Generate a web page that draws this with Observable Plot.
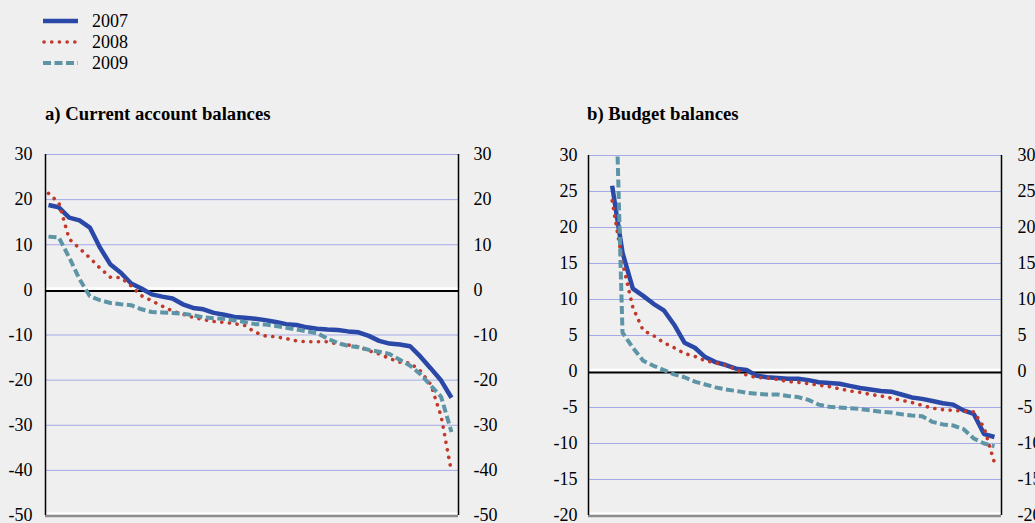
<!DOCTYPE html>
<html><head><meta charset="utf-8">
<script src="https://cdn.jsdelivr.net/npm/d3@7"></script>
<script src="https://cdn.jsdelivr.net/npm/@observablehq/plot@0.6"></script>
<style>
html,body{margin:0;padding:0;background:#efefef;overflow:hidden;width:1035px;height:523px;}
#wrap{position:relative;width:1035px;height:523px;overflow:hidden;font-family:"Liberation Serif","Times New Roman",serif;}
#wrap svg text{font-family:"Liberation Serif","Times New Roman",serif !important;}
#wrap svg{max-width:none !important;}
#left,#right{position:absolute;top:140px;}
#left{left:0;width:518px}
#right{left:540px;width:521px}
#overlay{position:absolute;left:0;top:0}
</style></head><body>
<div id="wrap">
<svg id="overlay" width="1035" height="140" font-family="Liberation Serif, Times New Roman, serif">
  <line x1="43" x2="78" y1="21" y2="21" stroke="#2a48a8" stroke-width="4.5"/>
  <line x1="44" x2="78" y1="42" y2="42" stroke="#c0392b" stroke-width="3.6" stroke-dasharray="0.1,7.6" stroke-linecap="round"/>
  <line x1="43" x2="78" y1="63" y2="63" stroke="#5e95a6" stroke-width="4" stroke-dasharray="8,3.5"/>
  <text x="92" y="27" font-size="18">2007</text>
  <text x="92" y="48" font-size="18">2008</text>
  <text x="92" y="69" font-size="18">2009</text>
  <text x="45" y="120" font-size="18.7" font-weight="bold">a) Current account balances</text>
  <text x="587" y="120" font-size="18.7" font-weight="bold">b) Budget balances</text>
</svg>
<div id="left"></div><div id="right"></div>
</div>
<script>
const years = ["2007", "2008", "2009"];
const seriesColors = ["#2a48a8", "#c0392b", "#5e95a6"];

// a) Current account balances (sorted country values), positions 1..40
const caTicks = [30, 20, 10, 0, -10, -20, -30, -40, -50];
const ca2007 = [18.8,18.3,16.0,15.4,13.8,9.3,5.6,3.8,1.4,0.3,-1.0,-1.5,-1.9,-3.2,-4.0,-4.3,-5.1,-5.5,-6.0,-6.2,-6.4,-6.7,-7.1,-7.6,-7.8,-8.3,-8.6,-8.8,-8.9,-9.2,-9.4,-10.2,-11.3,-11.9,-12.1,-12.5,-14.8,-17.4,-20.1,-23.9];
const ca2008 = [21.4,19.3,11.3,9.2,7.1,4.8,2.8,2.7,0.9,-1.3,-2.4,-3.6,-4.7,-5.4,-6.1,-6.6,-7.0,-7.2,-7.5,-7.9,-9.4,-10.2,-10.4,-10.8,-11.3,-11.5,-11.5,-11.5,-12.0,-12.2,-12.6,-13.5,-14.2,-15.2,-16.0,-16.2,-18.0,-21.0,-28.0,-40.4];
const ca2009 = [11.8,11.6,7.2,2.4,-1.4,-2.3,-2.9,-3.2,-3.4,-4.3,-4.9,-5.0,-5.1,-5.3,-5.6,-6.1,-6.3,-6.4,-6.8,-7.1,-7.6,-7.7,-8.0,-8.4,-8.8,-9.2,-9.6,-10.8,-11.8,-12.4,-12.7,-13.3,-13.7,-14.2,-15.5,-16.8,-18.7,-21.2,-23.7,-31.5];

// b) Budget balances, positions 3..40
const bbTicks = [30, 25, 20, 15, 10, 5, 0, -5, -10, -15, -20];
const bb2007 = [25.8,16.5,11.5,10.5,9.4,8.5,6.5,4.0,3.3,2.0,1.3,0.9,0.4,0.2,-0.6,-0.8,-0.9,-1.0,-1.0,-1.2,-1.5,-1.6,-1.7,-2.0,-2.3,-2.5,-2.7,-2.8,-3.2,-3.6,-3.8,-4.1,-4.4,-4.6,-5.4,-5.9,-8.7,-9.1];
const bb2008 = [23.7,15.1,8.9,5.7,5.0,4.0,3.3,2.5,2.1,1.5,1.2,0.85,0.3,-0.5,-0.85,-0.9,-1.1,-1.4,-1.5,-1.7,-1.9,-2.1,-2.4,-2.7,-2.9,-3.2,-3.4,-3.7,-4.0,-4.3,-4.7,-5.1,-5.3,-5.4,-5.5,-5.6,-7.8,-12.7];
const bb2009 = [57,5.4,3.3,1.5,0.8,0.2,-0.4,-0.8,-1.4,-1.8,-2.2,-2.5,-2.7,-2.95,-3.1,-3.2,-3.2,-3.4,-3.55,-3.95,-4.6,-4.9,-5.0,-5.1,-5.2,-5.4,-5.6,-5.7,-5.95,-6.1,-6.2,-7.0,-7.35,-7.5,-8.0,-9.3,-10.0,-10.4];

const xDomain = [0.71, 40.68];
const styles = [
  {strokeWidth: 4.5, strokeLinecap: "butt", strokeLinejoin: "miter"},
  {strokeWidth: 3.6, strokeDasharray: "0.1,7.6", strokeLinecap: "round"},
  {strokeWidth: 4, strokeDasharray: "8,3.5", strokeLinecap: "butt", strokeLinejoin: "miter"}
];
const FONT = "Liberation Serif, Times New Roman, serif";

function panel({series, start, ticks, marginLeft, width, marginTop, padL, padR}) {
  const yMin = ticks[ticks.length - 1], yMax = ticks[0];
  const grid = ticks.filter(t => t !== 0 && t !== yMin);
  const lines = series.map((vals, k) => Plot.line(
    vals.map((v, j) => ({i: start + j, v, year: years[k]})),
    {x: "i", y: "v", stroke: seriesColors[k], clip: true, ...styles[k]}
  ));
  return Plot.plot({
    width, height: 398,
    marginLeft, marginRight: 60, marginTop, marginBottom: 23,
    style: {background: "transparent", fontFamily: FONT, fontSize: "18px", color: "#000", overflow: "visible"},
    x: {domain: xDomain, axis: null},
    y: {domain: [yMin, yMax], axis: null},
    marks: [
      Plot.ruleY(grid, {stroke: "#a4a9e8", strokeWidth: 1}),
      Plot.ruleY([yMin], {stroke: "#ffffff", strokeWidth: 2, dy: -2}),
      Plot.ruleY([yMin], {stroke: "#8c8c8c", strokeWidth: 2.5, dy: 0.5}),
      Plot.ruleY([0], {stroke: "#ffffff", strokeWidth: 2.5, dy: -1.5}),
      Plot.ruleY([0], {stroke: "#000000", strokeWidth: 2, dy: 1}),
      ...lines,
      Plot.ruleX([xDomain[0], xDomain[1]], {stroke: "#000", strokeWidth: 1.5}),
      Plot.axisY(ticks, {anchor: "left", label: null, tickSize: 0, tickPadding: padL, tickFormat: d => String(d), fontSize: 18, fontFamily: FONT}),
      Plot.axisY(ticks, {anchor: "right", label: null, tickSize: 0, tickPadding: padR, tickFormat: d => String(d), fontSize: 18, fontFamily: FONT})
    ]
  });
}

document.getElementById("left").appendChild(panel({
  series: [ca2007, ca2008, ca2009], start: 1, ticks: caTicks,
  marginLeft: 45, width: 518, marginTop: 14, padL: 13, padR: 15
}));
document.getElementById("right").appendChild(panel({
  series: [bb2007, bb2008, bb2009], start: 3, ticks: bbTicks,
  marginLeft: 48, width: 521, marginTop: 15, padL: 11, padR: 16
}));
</script>
</body></html>
